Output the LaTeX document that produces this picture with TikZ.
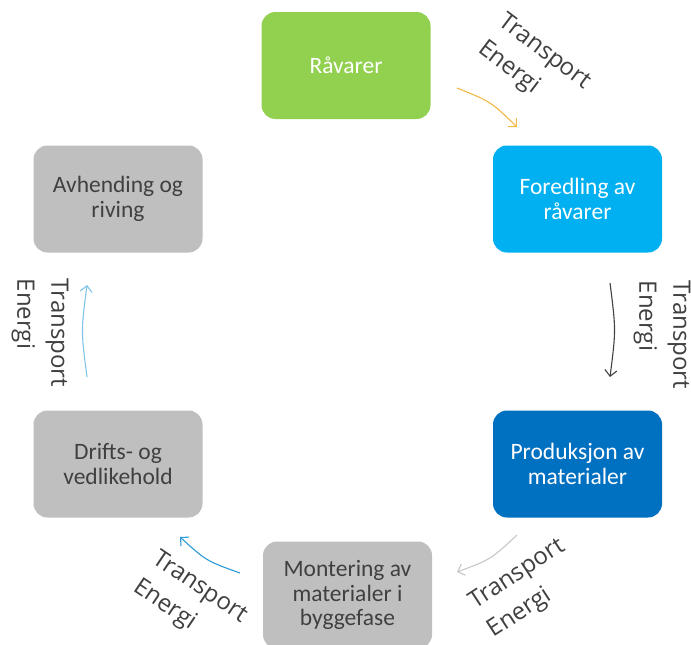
\documentclass[tikz,border=0pt]{standalone}
\usepackage{fontspec}
\setmainfont{Carlito}
\newfontfamily\labelfont{Open Sans}
\usetikzlibrary{arrows.meta}
\definecolor{cgreen}{HTML}{92D050}
\definecolor{ccyan}{HTML}{00B0F0}
\definecolor{cblue}{HTML}{0070C0}
\definecolor{cgray}{HTML}{BFBFBF}
\definecolor{ctext}{HTML}{404040}
\definecolor{aorange}{HTML}{F5B946}
\definecolor{adark}{HTML}{404040}
\definecolor{alight}{HTML}{C8C8C8}
\definecolor{ablue}{HTML}{2E9BD6}
\definecolor{alblue}{HTML}{7FC6E6}
\tikzset{
  stagebox/.style={rectangle, rounded corners=14pt, minimum width=169pt, minimum height=107pt,
    inner sep=0pt, align=center, font=\fontsize{23.5}{24.5}\selectfont},
  colbox/.style={stagebox, fill=#1, text=white},
  graybox/.style={stagebox, fill=cgray, text=ctext},
  flowlabel/.style={align=left, text=ctext, inner sep=0pt, font=\labelfont\fontsize{24}{34}\selectfont},
  flowarrow/.style={draw=#1, line width=1.1pt, -{Straight Barb[length=6pt,width=12pt]}}
}
\begin{document}
\begin{tikzpicture}[x=1pt,y=-1pt]
\useasboundingbox (0,0) rectangle (691,645);
\fill[white] (0,0) rectangle (691,645);
% stages
\node[colbox=cgreen] (raw) at (346,65.5) {Råvarer};
\node[colbox=ccyan] (ref) at (577.5,199) {Foredling av\\råvarer};
\node[colbox=cblue] (prod) at (577.5,464) {Produksjon av\\materialer};
\node[graybox] (mont) at (347.5,595) {Montering av\\materialer i\\byggefase};
\node[graybox] (drift) at (118,464) {Drifts- og\\vedlikehold};
\node[graybox] (avh) at (118,199) {Avhending og\\riving};
% labels
\node[flowlabel, rotate=-37] (l1) at (534,66) {Transport\\Energi};
\node[flowlabel, rotate=-90] (l2) at (662,335) {Transport\\Energi};
\node[flowlabel, rotate=33] (l3) at (527,589) {Transport\\Energi};
\node[flowlabel, rotate=-34] (l4) at (190,602) {Transport\\Energi};
\node[flowlabel, rotate=-90] (l5) at (40,333) {Transport\\Energi};
% arrow ends
\coordinate (a1s) at (457,88);  \coordinate (a1c) at (490.8,101.6); \coordinate (a1e) at (517,127);
\coordinate (a2s) at (610,283); \coordinate (a2c) at (616,330);    \coordinate (a2e) at (610,377);
\coordinate (a3s) at (517,535); \coordinate (a3c) at (490.7,559.5); \coordinate (a3e) at (457,572);
\coordinate (a4s) at (240,573); \coordinate (a4c) at (206.4,561);   \coordinate (a4e) at (180,537);
\coordinate (a5s) at (87,377);  \coordinate (a5c) at (81,331);     \coordinate (a5e) at (87,285);
\draw[flowarrow=aorange] (a1s) .. controls (a1c) .. (a1e);
\draw[flowarrow=adark] (a2s) .. controls (a2c) .. (a2e);
\draw[flowarrow=alight] (a3s) .. controls (a3c) .. (a3e);
\draw[flowarrow=ablue] (a4s) .. controls (a4c) .. (a4e);
\draw[flowarrow=alblue] (a5s) .. controls (a5c) .. (a5e);
\end{tikzpicture}
\end{document}
